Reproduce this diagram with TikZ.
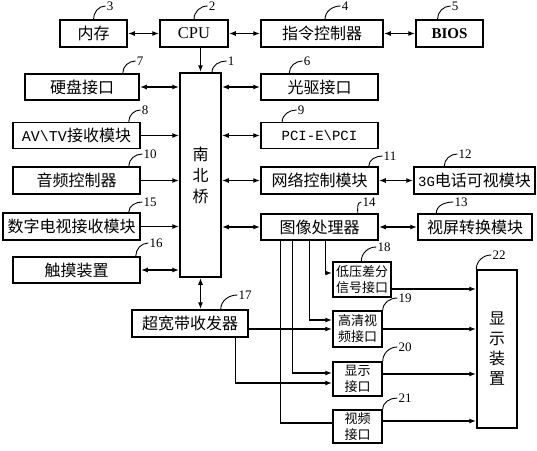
\documentclass[tikz,border=0pt]{standalone}
\usepackage{fontspec}
\setmainfont{Liberation Serif}
\newfontfamily\cjk{Noto Sans CJK SC}
\newfontfamily\half{Liberation Mono}
\usepackage{tikz}
\usetikzlibrary{arrows, arrows.meta, positioning}
\tikzstyle{box} = [rectangle, 
draw=black, 
line width=1.5pt, 
inner sep=1pt, 
text centered, 
font=\cjk\fontsize{16}{19}\selectfont]
\tikzstyle{smallbox} = [rectangle, 
draw=black, 
line width=1.5pt, 
inner sep=1pt, 
align=center, 
font=\cjk\fontsize{13}{16}\selectfont]
\tikzstyle{num} = [inner sep=1pt, font=\fontsize{13}{13}\selectfont]
\tikzstyle{lead} = [line width=0.9pt]
\tikzstyle{wire} = [line width=1.4pt]
\tikzstyle{arrow} = [line width=1.4pt, -{Latex[length=7pt,width=5pt]}]
\tikzstyle{darrow} = [line width=1.4pt, {Latex[length=7pt,width=5pt]}-{Latex[length=7pt,width=5pt]}]

\begin{document}
\begin{tikzpicture}[x=1pt, y=-1pt]
        \useasboundingbox (0,0) rectangle (537,450);

        % --- Bloques ---
        \node (mem) [box, minimum width=67pt, minimum height=27pt] at (93.5,33.5) {内存};
        \node (cpu) [box, minimum width=68pt, minimum height=27pt, font=\rmfamily\fontsize{16.5}{19}\selectfont] at (194,33.5) {CPU};
        \node (ctrl) [box, minimum width=122pt, minimum height=27pt] at (322,33.5) {指令控制器};
        \node (bios) [box, minimum width=67pt, minimum height=27pt, font=\bfseries\fontsize{15}{17}\selectfont] at (449.5,33.5) {BIOS};

        \node (nb) [box, minimum width=41pt, minimum height=204pt, align=center, font=\cjk\fontsize{16}{21}\selectfont] at (200.5,175) {南\\北\\桥};

        \node (hdd) [box, minimum width=114pt, minimum height=26pt] at (82,87) {硬盘接口};
        \node (avtv) [box, minimum width=127pt, minimum height=26pt] at (76.5,135.5) {{\half\fontsize{15}{19}\selectfont AV\textbackslash TV}接收模块};
        \node (audio) [box, minimum width=127pt, minimum height=27pt] at (76.5,180.5) {音频控制器};
        \node (dtv) [box, minimum width=137pt, minimum height=27pt] at (71.5,226.5) {数字电视接收模块};
        \node (touch) [box, minimum width=127pt, minimum height=26pt] at (76.5,270) {触摸装置};

        \node (cd) [box, minimum width=117pt, minimum height=26pt] at (319.5,87) {光驱接口};
        \node (pci) [box, minimum width=117pt, minimum height=26pt, font=\half\fontsize{14}{17}\selectfont] at (319.5,135.5) {PCI-E\textbackslash PCI};
        \node (net) [box, minimum width=117pt, minimum height=27pt] at (319.5,180.5) {网络控制模块};
        \node (img) [box, minimum width=117pt, minimum height=26pt] at (319.5,227) {图像处理器};
        \node (g3) [box, minimum width=121pt, minimum height=27pt] at (474.5,180.5) {{\half\fontsize{14}{19}\selectfont 3G}电话可视模块};
        \node (scr) [box, minimum width=114pt, minimum height=26pt] at (475,227) {视屏转换模块};

        \node (uwb) [box, minimum width=116pt, minimum height=27pt] at (190,323.5) {超宽带收发器};

        \node (lvds) [smallbox, minimum width=58pt, minimum height=35pt] at (362,279.5) {低压差分\\信号接口};
        \node (hd) [smallbox, minimum width=49pt, minimum height=36pt] at (357.5,329) {高清视\\频接口};
        \node (dispif) [smallbox, minimum width=49pt, minimum height=34pt] at (357.5,379) {显示\\接口};
        \node (vid) [smallbox, minimum width=49pt, minimum height=33pt] at (357.5,426.5) {视频\\接口};

        \node (disp) [box, minimum width=40pt, minimum height=158pt, align=center, font=\cjk\fontsize{16}{20}\selectfont] at (497,349) {显\\示\\装\\置};

        % --- Enlaces ---
        \draw [darrow] (mem) -- (cpu);
        \draw [darrow] (cpu) -- (ctrl);
        \draw [darrow] (ctrl) -- (bios);
        \draw [arrow] (cpu.south -| nb.north) -- (nb.north);

        \draw [darrow] (hdd.east) -- (hdd.east -| nb.west);
        \draw [arrow] (avtv.east) -- (avtv.east -| nb.west);
        \draw [arrow] (audio.east) -- (audio.east -| nb.west);
        \draw [arrow] (dtv.east) -- (dtv.east -| nb.west);
        \draw [darrow] (touch.east) -- (touch.east -| nb.west);

        \draw [darrow] (cd.west -| nb.east) -- (cd.west);
        \draw [darrow] (pci.west -| nb.east) -- (pci.west);
        \draw [darrow] (net.west -| nb.east) -- (net.west);
        \draw [darrow] (img.west -| nb.east) -- (img.west);
        \draw [darrow] (net) -- (g3);
        \draw [darrow] (img) -- (scr);

        \draw [darrow] (nb.south) -- (nb.south |- uwb.north);

        \draw [arrow] ([xshift=65pt]img.south west) |- ([yshift=6.5pt]lvds.west);
        \draw [arrow] ([xshift=49pt]img.south west) |- ([yshift=9pt]hd.west);
        \draw [arrow] ([xshift=32pt]img.south west) |- ([yshift=6pt]dispif.west);
        \draw [wire] ([xshift=20pt]img.south west) |- ([yshift=3.5pt]vid.west);
        \draw [arrow] (uwb.east |- hd.west) -- (hd.west);
        \draw [arrow] ([xshift=-13pt]uwb.south east) |- ([yshift=-4pt]dispif.west);

        \draw [arrow] ([yshift=-9.5pt]lvds.east) -- ([yshift=-9.5pt]lvds.east -| disp.west);
        \draw [arrow] (hd.east) -- (hd.east -| disp.west);
        \draw [arrow] ([yshift=5pt]dispif.east) -- ([yshift=5pt]dispif.east -| disp.west);
        \draw [arrow] ([yshift=5.5pt]vid.east) -- ([yshift=5.5pt]vid.east -| disp.west);

        % --- Etiquetas ---
        \node (n1) [num] at (231,61) {1};
        \node (n2) [num] at (212,6) {2};
        \node (n3) [num] at (110,6) {3};
        \node (n4) [num] at (345,6) {4};
        \node (n5) [num] at (455,6) {5};
        \node (n6) [num] at (307,61) {6};
        \node (n7) [num] at (140,61) {7};
        \node (n8) [num] at (145,110) {8};
        \node (n9) [num] at (301,110) {9};
        \node (n10) [num] at (150,154) {10};
        \node (n11) [num] at (390,156) {11};
        \node (n12) [num] at (465,154) {12};
        \node (n13) [num] at (461,202) {13};
        \node (n14) [num] at (369,202) {14};
        \node (n15) [num] at (150,202) {15};
        \node (n16) [num] at (156,243) {16};
        \node (n17) [num] at (245,295) {17};
        \node (n18) [num] at (384,247) {18};
        \node (n19) [num] at (405,298) {19};
        \node (n20) [num] at (405,347) {20};
        \node (n21) [num] at (405,398) {21};
        \node (n22) [num] at (499,255) {22};

        \draw [lead] ([xshift=11.5pt]nb.north) to[out=90, in=180] (n1.west);
        \draw [lead] (cpu.north) to[out=90, in=180] (n2.west);
        \draw [lead] (mem.north) to[out=90, in=180] (n3.west);
        \draw [lead] ([xshift=3pt]ctrl.north) to[out=90, in=180] (n4.west);
        \draw [lead] ([xshift=-12pt]bios.north) to[out=90, in=180] (n5.west);
        \draw [lead] ([xshift=29pt]cd.north west) to[out=90, in=180] (n6.west);
        \draw [lead] ([xshift=-17pt]hdd.north east) to[out=90, in=180] (n7.west);
        \draw [lead] ([xshift=-12pt]avtv.north east) to[out=90, in=180] (n8.west);
        \draw [lead] ([xshift=22pt]pci.north west) to[out=90, in=180] (n9.west);
        \draw [lead] ([xshift=-12pt]audio.north east) to[out=90, in=180] (n10.west);
        \draw [lead] ([xshift=-10pt]net.north east) to[out=90, in=180] (n11.west);
        \draw [lead] ([xshift=31pt]g3.north west) to[out=90, in=180] (n12.west);
        \draw [lead] ([xshift=19pt]scr.north west) to[out=90, in=180] (n13.west);
        \draw [lead] ([xshift=-21pt]img.north east) to[out=90, in=180] (n14.west);
        \draw [lead] ([xshift=-12pt]dtv.north east) to[out=90, in=180] (n15.west);
        \draw [lead] ([xshift=-5pt]touch.north east) to[out=90, in=180] (n16.west);
        \draw [lead] ([xshift=-28pt]uwb.north east) to[out=90, in=180] (n17.west);
        \draw [lead] ([xshift=29pt]lvds.north west) to[out=90, in=180] (n18.west);
        \draw [lead] (hd.north east) to[out=90, in=180] (n19.west);
        \draw [lead] (dispif.north east) to[out=90, in=180] (n20.west);
        \draw [lead] (vid.north east) to[out=90, in=180] (n21.west);
        \draw [lead] (disp.north west) to[out=90, in=180] (n22.west);

    \end{tikzpicture}
\end{document}
